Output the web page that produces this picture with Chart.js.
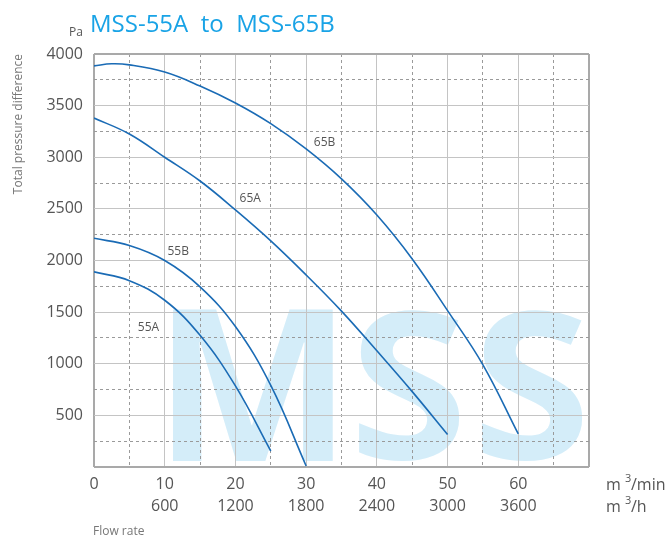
<!DOCTYPE html>
<html>
<head>
<meta charset="utf-8">
<script src="https://cdn.jsdelivr.net/npm/chart.js@4.4.1/dist/chart.umd.min.js"></script>
<style>
  body { margin: 0; background: #fff; }
  #wrap { width: 671px; height: 540px; }
</style>
</head>
<body>
<div id="wrap"><canvas id="fanChart" width="671" height="540"></canvas></div>
<script>
// flow rate in m3/min, pressure in Pa
const flow55A = [0, 5, 10, 15, 20, 25];
const pres55A = [1890, 1805, 1615, 1275, 785, 155];

const flow55B = [0, 5, 10, 15, 20, 25, 30];
const pres55B = [2215, 2145, 2000, 1745, 1360, 790, 10];

const flow65A = [0, 5, 10, 15, 20, 25, 30, 35, 40, 45, 50];
const pres65A = [3380, 3225, 3000, 2770, 2490, 2190, 1860, 1510, 1125, 730, 315];

const flow65B = [0, 2.5, 5, 10, 15, 20, 25, 30, 35, 40, 45, 50, 55, 60];
const pres65B = [3885, 3905, 3895, 3825, 3690, 3525, 3325, 3080, 2790, 2440, 2015, 1515, 990, 320];

const curveNames = ["55A", "55B", "65A", "65B"];
// where each curve name sits, in data units (flow, pressure)
const labelFlow = [7.7, 11.9, 22.1, 32.6];
const labelPres = [1354, 2084, 2601, 3143];

const xTickLabels = ["0", "10", "20", "30", "40", "50", "60"];   // m3/min
const xTickLabelsH = ["", "600", "1200", "1800", "2400", "3000", "3600"]; // m3/h
const yTickLabels = ["500", "1000", "1500", "2000", "2500", "3000", "3500", "4000"];

const lineColor = "#1a6bb5";
const textColor = "#555555";

function pts(xs, ys) {
  return xs.map((x, i) => ({ x: x, y: ys[i] }));
}

const series = [pts(flow55A, pres55A), pts(flow55B, pres55B), pts(flow65A, pres65A), pts(flow65B, pres65B)];

// big pale logo letters behind the grid: [letter, left, right]
const logo = [["M", 172, 333], ["S", 359, 460], ["S", 482, 583]];

const extras = {
  id: "extras",
  beforeDraw(chart) {
    const ctx = chart.ctx, a = chart.chartArea;
    ctx.save();
    ctx.beginPath();
    ctx.rect(a.left, a.top, a.right - a.left, a.bottom - a.top);
    ctx.clip();
    ctx.fillStyle = "#d4edf9";
    ctx.font = "bold 200px 'Open Sans'";
    ctx.textBaseline = "alphabetic";
    ctx.textAlign = "left";
    const top = 310, bottom = 461;
    logo.forEach(([ch, l, r]) => {
      const m = ctx.measureText(ch);
      const w = m.actualBoundingBoxLeft + m.actualBoundingBoxRight;
      const h = m.actualBoundingBoxAscent + m.actualBoundingBoxDescent;
      const sx = (r - l) / w, sy = (bottom - top) / h;
      ctx.save();
      ctx.translate(l, bottom);
      ctx.scale(sx, sy);
      ctx.fillText(ch, m.actualBoundingBoxLeft, -m.actualBoundingBoxDescent);
      ctx.restore();
    });
    ctx.restore();
  },
  afterDraw(chart) {
    const ctx = chart.ctx;
    const xs = chart.scales.x, ys = chart.scales.y;
    ctx.save();
    // title
    ctx.fillStyle = "#19a3e6";
    ctx.font = "24px 'Open Sans'";
    ctx.textAlign = "left";
    ctx.textBaseline = "alphabetic";
    ctx.fillText("MSS-55A  to  MSS-65B", 90, 32);
    ctx.fillStyle = textColor;
    ctx.font = "12px 'Open Sans'";
    ctx.fillText("Pa", 69, 36);
    // curve names
    ctx.textAlign = "center";
    ctx.textBaseline = "middle";
    curveNames.forEach((n, i) => {
      ctx.fillText(n, xs.getPixelForValue(labelFlow[i]), ys.getPixelForValue(labelPres[i]));
    });
    // units
    ctx.textAlign = "left";
    ctx.font = "16px 'Open Sans'";
    ctx.fillText("m", 606, 485);
    ctx.fillText("m", 606, 507);
    const mw = ctx.measureText("m ").width;
    ctx.fillText("/min", 606 + mw + 6, 485);
    ctx.fillText("/h", 606 + mw + 6, 507);
    ctx.font = "11px 'Open Sans'";
    ctx.fillText("3", 606 + mw, 479);
    ctx.fillText("3", 606 + mw, 501);
    ctx.fillStyle = "#777777";
    ctx.font = "12px 'Open Sans'";
    ctx.fillText("Flow rate", 93, 532);
    ctx.restore();
  }
};

new Chart(document.getElementById("fanChart"), {
  type: "line",
  data: {
    datasets: series.map((d, i) => ({
      label: curveNames[i],
      data: d,
      borderColor: lineColor,
      borderWidth: 1.6,
      pointRadius: 0,
      fill: false,
      tension: 0.4
    }))
  },
  options: {
    responsive: false,
    animation: false,
    layout: { padding: { top: 54, right: 82, left: 0, bottom: 0 } },
    plugins: { legend: { display: false }, tooltip: { enabled: false } },
    scales: {
      x: {
        type: "linear",
        min: 0,
        max: 70,
        afterFit: s => { s.height = 73; },
        border: { display: false, dash: c => c.tick.value % 10 === 0 ? [] : [3, 3] },
        grid: {
          drawTicks: false,
          color: c => (c.tick.value === 0 || c.tick.value === 70) ? "#a9a9a9" : (c.tick.value % 10 === 0 ? "#c4c4c4" : "#9a9a9a"),
          lineWidth: c => (c.tick.value === 0 || c.tick.value === 70) ? 2 : 1
        },
        ticks: {
          stepSize: 5,
          autoSkip: false,
          maxRotation: 0,
          padding: 7,
          color: textColor,
          font: { family: "'Open Sans'", size: 16, lineHeight: 1.35 },
          callback: v => {
            const i = xTickLabels.indexOf(String(v));
            if (i < 0) return "";
            return xTickLabelsH[i] ? [xTickLabels[i], xTickLabelsH[i]] : xTickLabels[i];
          }
        }
      },
      y: {
        min: 0,
        max: 4000,
        afterFit: s => { s.width = 94; },
        border: { display: false, dash: c => c.tick.value % 500 === 0 ? [] : [3, 3] },
        grid: {
          drawTicks: false,
          color: c => (c.tick.value === 0 || c.tick.value === 4000) ? "#a9a9a9" : (c.tick.value % 500 === 0 ? "#c4c4c4" : "#9a9a9a"),
          lineWidth: c => (c.tick.value === 0 || c.tick.value === 4000) ? 2 : 1
        },
        ticks: {
          stepSize: 250,
          autoSkip: false,
          padding: 11,
          color: textColor,
          font: { family: "'Open Sans'", size: 16 },
          callback: v => yTickLabels.includes(String(v)) ? String(v) : ""
        },
        title: {
          display: true,
          text: "Total pressure difference",
          align: "end",
          color: "#777777",
          font: { family: "'Open Sans'", size: 12 },
          padding: { top: 11, bottom: 0 }
        }
      }
    }
  },
  plugins: [extras]
});
</script>
</body>
</html>
